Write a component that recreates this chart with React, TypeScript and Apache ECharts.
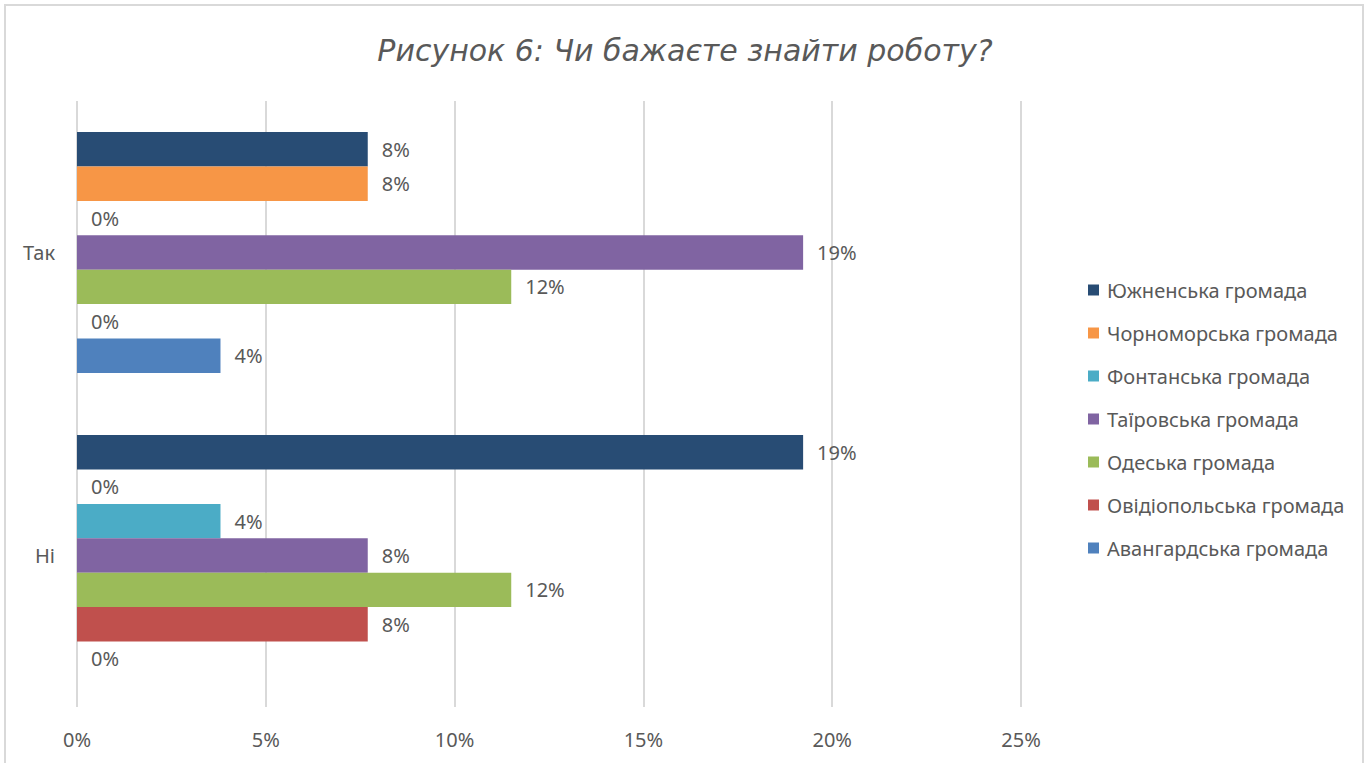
import React, { useEffect, useRef } from "react";
import * as echarts from "echarts";

const categories = ["Так", "Ні"];
const seriesNames = [
  "Южненська громада",
  "Чорноморська громада",
  "Фонтанська громада",
  "Таїровська громада",
  "Одеська громада",
  "Овідіопольська громада",
  "Авангардська громада",
];
const yuzhne = [7.7, 19.23];
const chornomorsk = [7.7, 0];
const fontanka = [0, 3.8];
const tairove = [19.23, 7.7];
const odesa = [11.5, 11.5];
const ovidiopol = [0, 7.7];
const avangard = [3.8, 0];
const colors = ["#284c74", "#f79646", "#4bacc6", "#8064a2", "#9bbb59", "#c0504d", "#4f81bd"];
const xTicks = [0, 5, 10, 15, 20, 25];

const seriesValues = [yuzhne, chornomorsk, fontanka, tairove, odesa, ovidiopol, avangard];

const FONT = "Noto Sans";
const GREY = "#595959";

export default function App() {
  const ref = useRef<HTMLDivElement>(null);
  useEffect(() => {
    if (!ref.current) return;
    const chart = echarts.init(ref.current, null, { renderer: "svg" });
    chart.setOption({
      animation: false,
      backgroundColor: "#ffffff",
      textStyle: { fontFamily: FONT },
      title: {
        text: "Рисунок 6: Чи бажаєте знайти роботу?",
        left: "center",
        top: 30,
        textStyle: { fontFamily: "DejaVu Sans", fontStyle: "italic", fontWeight: "normal", fontSize: 30, color: GREY },
      },
      graphic: [
        {
          type: "rect",
          shape: { x: 5, y: 5, width: 1358, height: 800 },
          style: { fill: "none", stroke: "#d9d9d9", lineWidth: 2 },
          silent: true,
        },
      ],
      legend: {
        orient: "vertical",
        left: 1083,
        top: 275,
        icon: "rect",
        itemWidth: 11,
        itemHeight: 11,
        itemGap: 23,
        data: seriesNames,
        textStyle: { fontFamily: FONT, fontSize: 20, color: GREY, padding: [0, 0, 0, 3] },
      },
      grid: { left: 77, right: 349, top: 101, bottom: 56, containLabel: false },
      xAxis: {
        type: "value",
        min: xTicks[0],
        max: xTicks[xTicks.length - 1],
        interval: 5,
        axisLine: { show: false },
        axisTick: { show: false },
        axisLabel: { formatter: "{value}%", fontSize: 20, color: GREY, margin: 22, fontFamily: FONT },
        splitLine: { lineStyle: { color: "#d9d9d9", width: 2 } },
      },
      yAxis: {
        type: "category",
        inverse: true,
        data: categories,
        axisLine: { show: false },
        axisTick: { show: false },
        axisLabel: { fontSize: 20, color: GREY, margin: 22, fontFamily: FONT },
      },
      series: seriesNames.map((name, i) => ({
        name,
        type: "bar",
        data: seriesValues[i],
        barGap: "0%",
        barCategoryGap: "20.5%",
        itemStyle: { color: colors[i] },
        label: {
          show: true,
          position: "right",
          distance: 14,
          fontSize: 20,
          color: GREY,
          fontFamily: FONT,
          formatter: (p: any) => Math.round(p.value) + "%",
        },
      })),
    });
    return () => chart.dispose();
  }, []);
  return (
    <div
      ref={ref}
      style={{ position: "absolute", left: 0, top: 0, width: 1370, height: 763 }}
    />
  );
}
